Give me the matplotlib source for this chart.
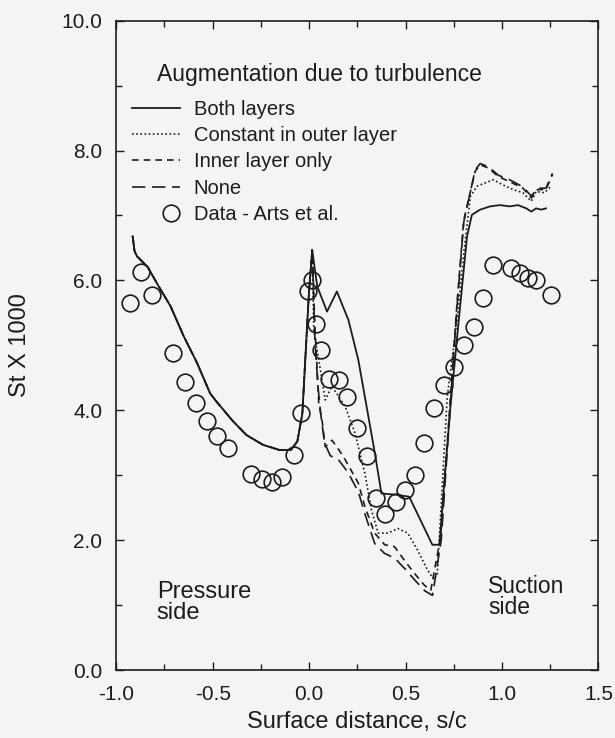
import matplotlib
matplotlib.use("Agg")
import matplotlib.pyplot as plt
from matplotlib.ticker import MultipleLocator, FormatStrFormatter
from matplotlib.legend_handler import HandlerLine2D

plt.rcParams['font.family'] = ['Liberation Sans', 'DejaVu Sans']
plt.rcParams['axes.unicode_minus'] = False

# measured data (Arts et al.)
data_x = [-0.927, -0.872, -0.812, -0.704, -0.641, -0.587, -0.530, -0.476, -0.420,
          -0.300, -0.245, -0.194, -0.138, -0.078, -0.040, -0.005, 0.016, 0.036,
          0.064, 0.101, 0.153, 0.199, 0.246, 0.298, 0.349, 0.395, 0.451, 0.499,
          0.549, 0.597, 0.648, 0.699, 0.750, 0.802, 0.853, 0.901, 0.955, 1.049,
          1.092, 1.135, 1.177, 1.254]
data_y = [5.65, 6.13, 5.78, 4.89, 4.44, 4.12, 3.83, 3.61, 3.42,
          3.02, 2.94, 2.90, 2.98, 3.31, 3.96, 5.83, 6.01, 5.33,
          4.93, 4.49, 4.47, 4.21, 3.73, 3.29, 2.65, 2.41, 2.59, 2.77,
          3.00, 3.50, 4.03, 4.39, 4.67, 5.01, 5.29, 5.73, 6.24, 6.19,
          6.11, 6.04, 6.01, 5.78]

# pressure side part shared by all predictions
pres_x = [-0.915, -0.905, -0.892, -0.838, -0.780, -0.718, -0.650, -0.581, -0.513,
          -0.479, -0.394, -0.325, -0.240, -0.155, -0.095, -0.061, -0.035, -0.018,
          -0.001, 0.016]
pres_y = [6.68, 6.45, 6.37, 6.21, 5.91, 5.60, 5.14, 4.73, 4.26,
          4.13, 3.83, 3.62, 3.47, 3.39, 3.39, 3.52, 3.95, 4.88,
          5.80, 6.47]

# Both layers
both_x = [0.042, 0.093, 0.144, 0.204, 0.255, 0.298, 0.341, 0.375, 0.450, 0.519,
          0.639, 0.676, 0.699, 0.733, 0.776, 0.819, 0.844, 0.887, 0.938, 0.989,
          1.040, 1.083, 1.126, 1.152, 1.177, 1.203, 1.228]
both_y = [5.91, 5.52, 5.83, 5.39, 4.78, 4.06, 3.34, 2.72, 2.70, 2.67,
          1.93, 1.93, 2.82, 4.06, 5.39, 6.68, 7.01, 7.09, 7.14, 7.16,
          7.14, 7.16, 7.11, 7.06, 7.11, 7.09, 7.11]

# Constant in outer layer
const_x = [0.024, 0.050, 0.084, 0.118, 0.187, 0.238, 0.289, 0.323, 0.358, 0.409,
           0.460, 0.511, 0.562, 0.614, 0.648, 0.665, 0.716, 0.767, 0.802, 0.836,
           0.870, 0.912, 0.955, 1.006, 1.057, 1.109, 1.152, 1.177, 1.220, 1.254]
const_y = [5.24, 4.78, 4.16, 4.37, 4.06, 3.65, 3.03, 2.47, 2.11, 2.11,
           2.18, 2.11, 1.85, 1.54, 1.39, 1.49, 4.20, 5.39, 6.42, 7.29,
           7.45, 7.50, 7.55, 7.47, 7.40, 7.35, 7.22, 7.37, 7.35, 7.45]

# Inner layer only
inner_x = [0.030, 0.042, 0.050, 0.067, 0.084, 0.118, 0.144, 0.187, 0.255, 0.289,
           0.340, 0.392, 0.443, 0.494, 0.546, 0.597, 0.631, 0.682, 0.767, 0.802,
           0.861, 0.887, 0.930, 0.981, 1.040, 1.109, 1.152, 1.186, 1.228, 1.262]
inner_y = [5.30, 4.62, 4.11, 3.85, 3.44, 3.54, 3.44, 3.24, 2.88, 2.52,
           2.11, 1.93, 1.90, 1.69, 1.49, 1.31, 1.23, 2.05, 5.65, 6.93,
           7.68, 7.78, 7.73, 7.60, 7.52, 7.42, 7.27, 7.40, 7.40, 7.63]

# None
none_x = [0.030, 0.045, 0.060, 0.080, 0.110, 0.150, 0.200, 0.255, 0.290, 0.340,
          0.390, 0.445, 0.500, 0.550, 0.600, 0.640, 0.685, 0.767, 0.802, 0.861,
          0.887, 0.930, 0.981, 1.040, 1.109, 1.152, 1.186, 1.228, 1.262]
none_y = [5.10, 4.40, 3.95, 3.50, 3.30, 3.25, 3.05, 2.75, 2.40, 1.95,
          1.80, 1.72, 1.55, 1.38, 1.22, 1.15, 2.00, 5.60, 6.90, 7.70,
          7.80, 7.75, 7.62, 7.55, 7.44, 7.30, 7.42, 7.42, 7.65]

ink = '#1c1c1c'
bg = '#f4f4f4'


class RightMarker(HandlerLine2D):
    # put the legend circle at the right end of the handle box
    def get_xdata(self, legend, xdescent, ydescent, width, height, fontsize):
        xd = [-xdescent + width - 0.45 * fontsize]
        return xd, xd


fig = plt.figure(figsize=(6.15, 7.38), dpi=100, facecolor=bg)
ax = fig.add_axes([0.189, 0.092, 0.784, 0.880], facecolor=bg)

ax.plot(pres_x + both_x, pres_y + both_y, color=ink, lw=1.3, ls='-', label='Both layers')
ax.plot(pres_x + const_x, pres_y + const_y, color=ink, lw=1.2, ls=(0, (1, 1.5)),
        label='Constant in outer layer')
ax.plot(pres_x + inner_x, pres_y + inner_y, color=ink, lw=1.2, ls=(0, (4, 3)),
        label='Inner layer only')
ax.plot(pres_x + none_x, pres_y + none_y, color=ink, lw=1.2, ls=(0, (8, 4)),
        label='None')
dots, = ax.plot(data_x, data_y, ls='none', marker='o', ms=12, mfc='none', mec=ink,
                mew=1.2, label='Data - Arts et al.')

ax.set_xlim(-1.0, 1.5)
ax.set_ylim(0.0, 10.0)
ax.xaxis.set_major_locator(MultipleLocator(0.5))
ax.xaxis.set_minor_locator(MultipleLocator(0.25))
ax.yaxis.set_major_locator(MultipleLocator(2.0))
ax.yaxis.set_minor_locator(MultipleLocator(1.0))
ax.xaxis.set_major_formatter(FormatStrFormatter('%.1f'))
ax.yaxis.set_major_formatter(FormatStrFormatter('%.1f'))
ax.tick_params(which='both', direction='in', top=True, right=True, color=ink,
               labelsize=15, labelcolor=ink)
ax.tick_params(which='major', length=6, width=1.0)
ax.tick_params(which='minor', length=4, width=1.0)
ax.tick_params(axis='y', pad=10)
ax.tick_params(axis='x', pad=11)
for s in ax.spines.values():
    s.set_color(ink)
    s.set_linewidth(1.2)

ax.set_xlabel('Surface distance, s/c', fontsize=17, color=ink, labelpad=5)
ax.set_ylabel('St X 1000', fontsize=17, color=ink, labelpad=22)

ax.text(0.084, 0.917, 'Augmentation due to turbulence', transform=ax.transAxes,
        fontsize=16.5, color=ink, va='center', ha='left')
ax.legend(loc='upper left', bbox_to_anchor=(0.033, 0.878), frameon=False, fontsize=14.5,
          handlelength=2.4, handletextpad=0.65, labelspacing=0.36, borderaxespad=0,
          borderpad=0, labelcolor=ink, handler_map={dots: RightMarker(numpoints=1)})

ax.text(-0.79, 1.20, 'Pressure', fontsize=17, color=ink, va='center', ha='left')
ax.text(-0.79, 0.88, 'side', fontsize=17, color=ink, va='center', ha='left')
ax.text(0.93, 1.28, 'Suction', fontsize=16.5, color=ink, va='center', ha='left')
ax.text(0.93, 0.96, 'side', fontsize=16.5, color=ink, va='center', ha='left')

fig.savefig('out.png', dpi=100, facecolor=bg)
